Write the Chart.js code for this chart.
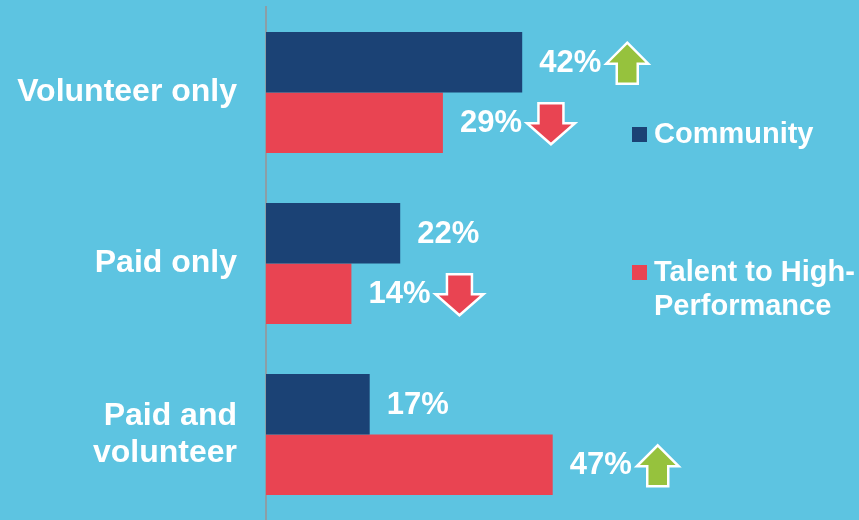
<!DOCTYPE html>
<html lang="en">
<head>
<meta charset="UTF-8">
<title>Volunteer / paid roles</title>
<script src="https://cdn.jsdelivr.net/npm/chart.js"></script>
<style>
    * { box-sizing: border-box; margin: 0; padding: 0; }
    body { background-color: #5DC4E1; width: 859px; height: 520px; overflow: hidden; }
    .chart-box { position: relative; width: 859px; height: 520px; }
</style>
</head>
<body>
<div class="chart-box">
    <canvas id="rolesChart"></canvas>
</div>

<script>
    // Data
    const categories = ['Volunteer only', 'Paid only', ['Paid and', 'volunteer']];
    const seriesNames = ['Community', 'Talent to High-Performance'];
    const communityValues = [42, 22, 17];
    const talentValues = [29, 14, 47];
    // change marker shown next to each value: 'up', 'down' or null
    const communityTrend = ['up', null, null];
    const talentTrend = ['down', 'down', 'up'];

    const NAVY = '#1B4275';
    const RED = '#E94452';
    const GREEN = '#96C23D';
    const FONT = '"Liberation Sans", Arial, sans-serif';

    function drawArrow(ctx, x, cy, dir, color) {
        const w = dir === 'up' ? 42 : 48;
        const h = 41;
        const shaft = dir === 'up' ? 21 : 25;
        const head = 21;
        const sx = x + (w - shaft) / 2;
        const top = cy - h / 2;
        ctx.beginPath();
        if (dir === 'up') {
            ctx.moveTo(x + w / 2, top);
            ctx.lineTo(x + w, top + head);
            ctx.lineTo(sx + shaft, top + head);
            ctx.lineTo(sx + shaft, top + h);
            ctx.lineTo(sx, top + h);
            ctx.lineTo(sx, top + head);
            ctx.lineTo(x, top + head);
        } else {
            ctx.moveTo(sx, top);
            ctx.lineTo(sx + shaft, top);
            ctx.lineTo(sx + shaft, top + h - head);
            ctx.lineTo(x + w, top + h - head);
            ctx.lineTo(x + w / 2, top + h);
            ctx.lineTo(x, top + h - head);
            ctx.lineTo(sx, top + h - head);
        }
        ctx.closePath();
        ctx.fillStyle = color;
        ctx.fill();
        ctx.lineWidth = 2.5;
        ctx.strokeStyle = '#ffffff';
        ctx.lineJoin = 'miter';
        ctx.stroke();
    }

    // value labels + arrows after each bar
    const valueLabels = {
        id: 'valueLabels',
        afterDatasetsDraw(chart) {
            const ctx = chart.ctx;
            const trends = [communityTrend, talentTrend];
            ctx.save();
            ctx.font = 'bold 31px ' + FONT;
            ctx.textBaseline = 'middle';
            ctx.textAlign = 'left';
            chart.data.datasets.forEach((ds, di) => {
                chart.getDatasetMeta(di).data.forEach((bar, i) => {
                    const txt = ds.data[i] + '%';
                    const x = bar.x + 17;
                    ctx.fillStyle = '#ffffff';
                    ctx.fillText(txt, x, bar.y + 1);
                    const t = trends[di][i];
                    if (t) {
                        const ax = x + ctx.measureText(txt).width + 5;
                        drawArrow(ctx, ax, bar.y + 1, t, t === 'up' ? GREEN : RED);
                    }
                });
            });
            ctx.restore();
        }
    };

    // legend on the right, drawn by hand to get the wrapped second entry
    const sideLegend = {
        id: 'sideLegend',
        afterDraw(chart) {
            const ctx = chart.ctx;
            ctx.save();
            ctx.font = 'bold 29px ' + FONT;
            ctx.textBaseline = 'middle';
            ctx.textAlign = 'left';
            ctx.fillStyle = NAVY;
            ctx.fillRect(632, 127, 15, 15);
            ctx.fillStyle = '#ffffff';
            ctx.fillText(seriesNames[0], 654, 135);
            ctx.fillStyle = RED;
            ctx.fillRect(632, 265, 15, 15);
            ctx.fillStyle = '#ffffff';
            ctx.fillText('Talent to High-', 654, 273);
            ctx.fillText('Performance', 654, 307);
            ctx.restore();
        }
    };

    new Chart(document.getElementById('rolesChart'), {
        type: 'bar',
        data: {
            labels: categories,
            datasets: [
                { label: seriesNames[0], data: communityValues, backgroundColor: NAVY },
                { label: seriesNames[1], data: talentValues, backgroundColor: RED }
            ]
        },
        options: {
            indexAxis: 'y',
            responsive: true,
            maintainAspectRatio: false,
            animation: false,
            categoryPercentage: 0.708,
            barPercentage: 1.0,
            layout: { padding: { top: 7, right: 288, bottom: 0, left: 0 } },
            scales: {
                x: { display: false, min: 0, max: 50 },
                y: {
                    grid: { display: false, drawTicks: false },
                    border: { display: true, color: '#8C9EA6', width: 2 },
                    ticks: {
                        color: '#ffffff',
                        padding: 29,
                        font: { family: FONT, size: 32, weight: 'bold', lineHeight: 1.17 }
                    },
                    afterFit(scale) {
                        scale.width = 266;
                        scale.paddingTop = 0;
                        scale.paddingBottom = 0;
                    }
                }
            },
            plugins: {
                legend: { display: false },
                tooltip: { enabled: false }
            }
        },
        plugins: [valueLabels, sideLegend]
    });
</script>
</body>
</html>
